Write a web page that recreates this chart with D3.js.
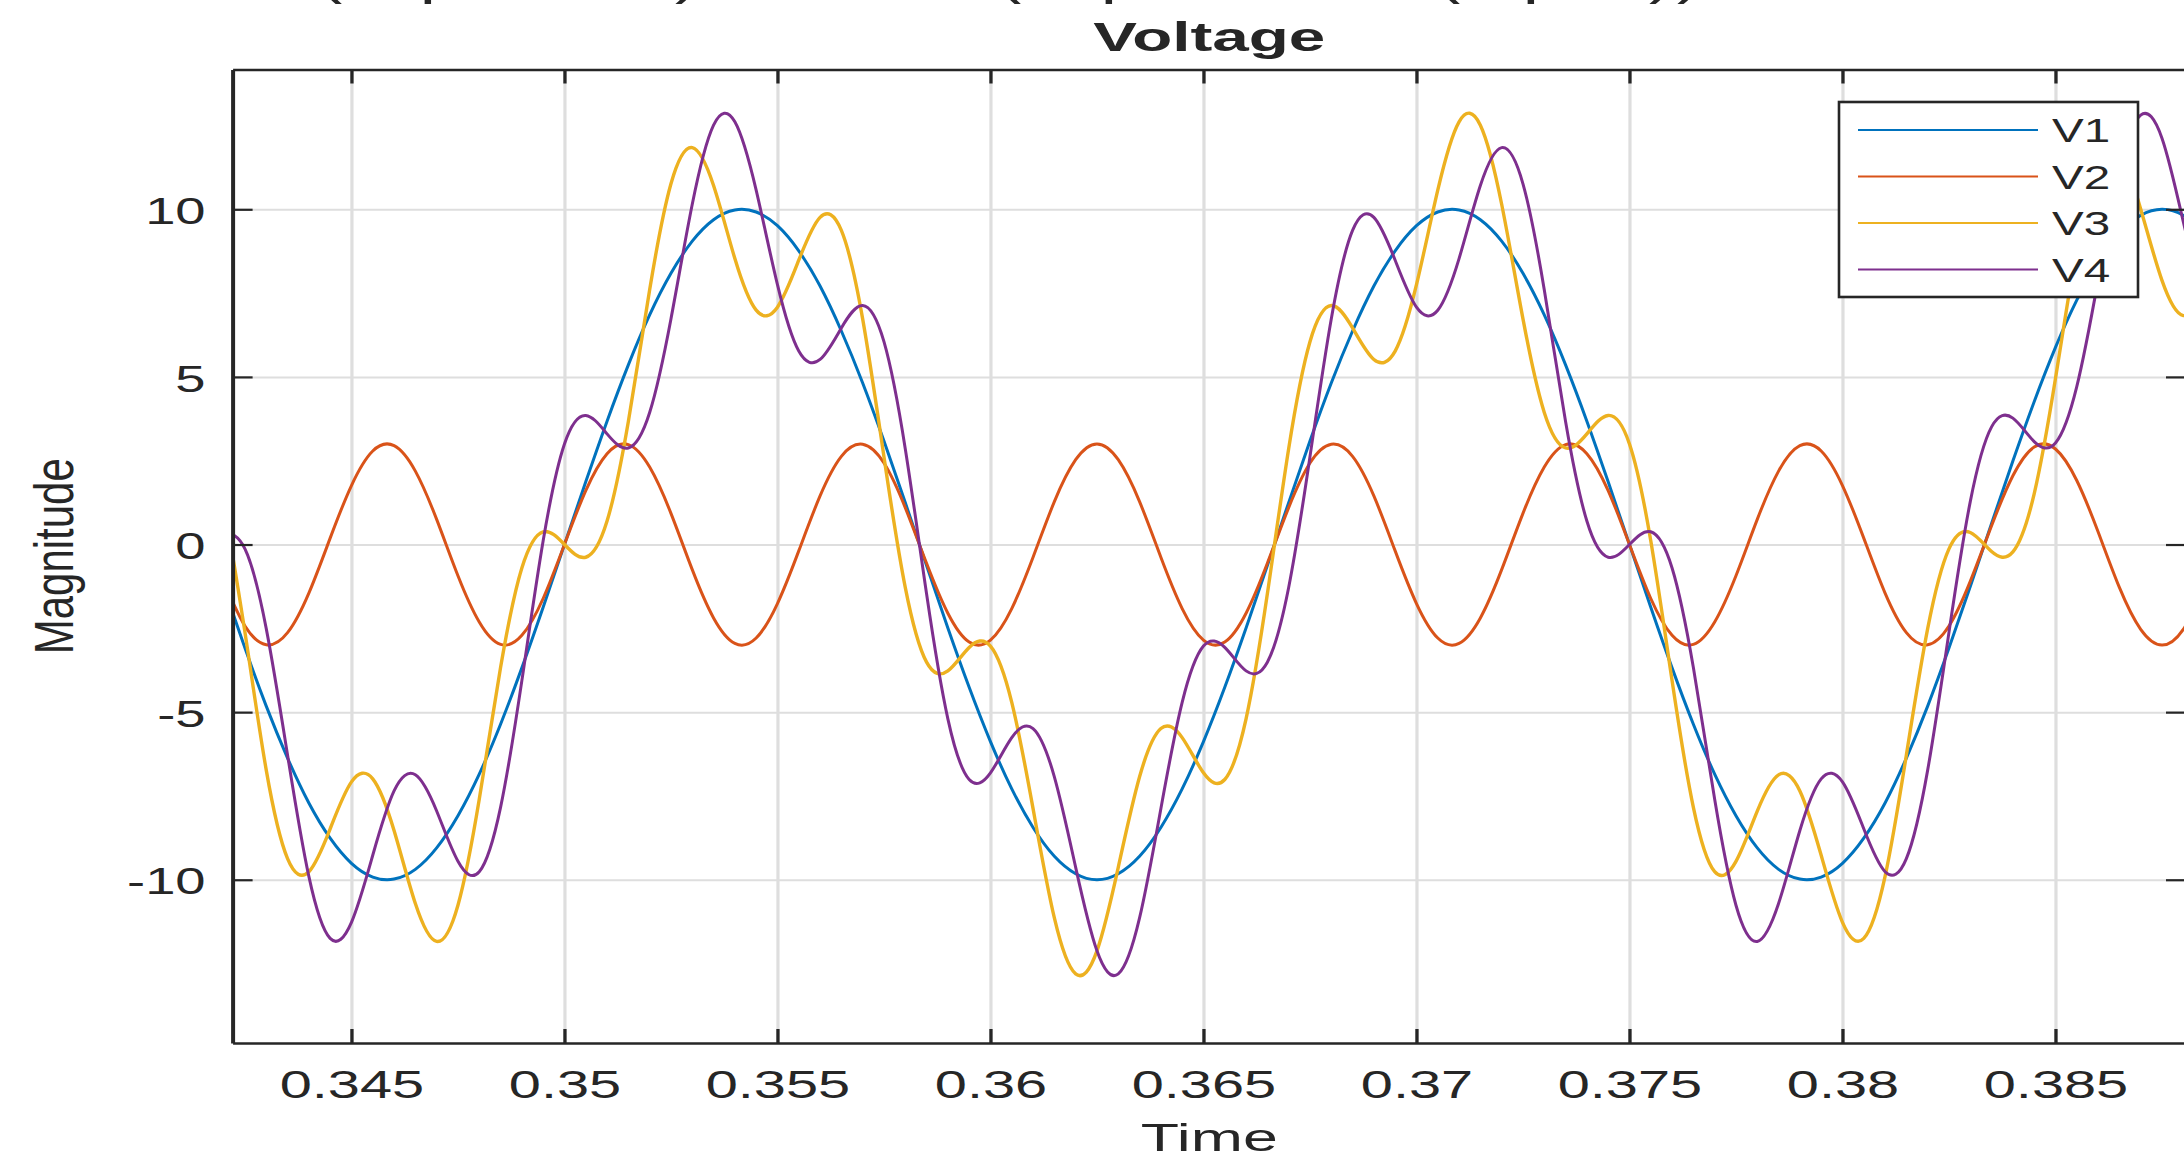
<!DOCTYPE html>
<html>
<head>
<meta charset="utf-8">
<script src="https://cdn.jsdelivr.net/npm/d3@7"></script>
<style>
  body { margin: 0; background: #fff; }
  svg { display: block; background: #fff; }
  text { font-family: "Liberation Sans", Arial, Helvetica, sans-serif; fill: #262626; }
</style>
</head>
<body>
<svg id="chart" width="2184" height="1156"></svg>
<script>
// Data =====================================================

var time = [0.3420,0.3425,0.3430,0.3435,0.3440,0.3445,0.3450,0.3455,0.3460,0.3465,
  0.3470,0.3475,0.3480,0.3485,0.3490,0.3495,0.3500,0.3505,0.3510,0.3515,
  0.3520,0.3525,0.3530,0.3535,0.3540,0.3545,0.3550,0.3555,0.3560,0.3565,
  0.3570,0.3575,0.3580,0.3585,0.3590,0.3595,0.3600,0.3605,0.3610,0.3615,
  0.3620,0.3625,0.3630,0.3635,0.3640,0.3645,0.3650,0.3655,0.3660,0.3665,
  0.3670,0.3675,0.3680,0.3685,0.3690,0.3695,0.3700,0.3705,0.3710,0.3715,
  0.3720,0.3725,0.3730,0.3735,0.3740,0.3745,0.3750,0.3755,0.3760,0.3765,
  0.3770,0.3775,0.3780,0.3785,0.3790,0.3795,0.3800,0.3805,0.3810,0.3815,
  0.3820,0.3825,0.3830,0.3835,0.3840,0.3845,0.3850,0.3855,0.3860,0.3865,
  0.3870,0.3875,0.3880,0.3885];

var v1 = [-1.25,-3.09,-4.82,-6.37,-7.71,-8.76,-9.51,-9.92,-9.98,-9.69,
  -9.05,-8.09,-6.85,-5.36,-3.68,-1.87,0,1.87,3.68,5.36,
  6.85,8.09,9.05,9.69,9.98,9.92,9.51,8.76,7.71,6.37,
  4.82,3.09,1.25,-0.63,-2.49,-4.26,-5.88,-7.29,-8.44,-9.30,
  -9.82,-10,-9.82,-9.30,-8.44,-7.29,-5.88,-4.26,-2.49,-0.63,
  1.25,3.09,4.82,6.37,7.71,8.76,9.51,9.92,9.98,9.69,
  9.05,8.09,6.85,5.36,3.68,1.87,0,-1.87,-3.68,-5.36,
  -6.85,-8.09,-9.05,-9.69,-9.98,-9.92,-9.51,-8.76,-7.71,-6.37,
  -4.82,-3.09,-1.25,0.63,2.49,4.26,5.88,7.29,8.44,9.30,
  9.82,10,9.82,9.30];

var v2 = [-1.10,-2.43,-2.99,-2.63,-1.45,0.19,1.76,2.79,2.95,2.19,
  0.75,-0.93,-2.31,-2.98,-2.71,-1.61,0,1.61,2.71,2.98,
  2.31,0.93,-0.75,-2.19,-2.95,-2.79,-1.76,-0.19,1.45,2.63,
  2.99,2.43,1.10,-0.56,-2.05,-2.91,-2.85,-1.91,-0.38,1.28,
  2.53,3.00,2.53,1.28,-0.38,-1.91,-2.85,-2.91,-2.05,-0.56,
  1.10,2.43,2.99,2.63,1.45,-0.19,-1.76,-2.79,-2.95,-2.19,
  -0.75,0.93,2.31,2.98,2.71,1.61,0,-1.61,-2.71,-2.98,
  -2.31,-0.93,0.75,2.19,2.95,2.79,1.76,0.19,-1.45,-2.63,
  -2.99,-2.43,-1.10,0.56,2.05,2.91,2.85,1.91,0.38,-1.28,
  -2.53,-3.00,-2.53,-1.28];

var v3 = [1.28,-2.62,-6.73,-9.37,-9.76,-8.48,-7.08,-6.99,-8.53,-10.71,
  -11.84,-10.76,-7.60,-3.67,-0.70,0.38,0,-0.38,0.70,3.67,
  7.60,10.76,11.84,10.71,8.53,6.99,7.08,8.48,9.76,9.37,
  6.73,2.62,-1.28,-3.51,-3.77,-3.07,-3.03,-4.71,-7.88,-11.14,
  -12.81,-12.12,-9.63,-6.93,-5.49,-5.76,-6.81,-7.01,-5.20,-1.47,
  2.86,6.05,7.13,6.46,5.52,5.77,7.75,10.57,12.61,12.51,
  10.15,6.73,3.94,2.88,3.30,3.85,3.00,0.11,-4.06,-7.84,
  -9.76,-9.45,-7.95,-6.87,-7.35,-9.27,-11.27,-11.75,-9.90,-6.28,
  -2.51,-0.13,0.36,-0.21,-0.22,1.51,4.95,8.82,11.39,11.67,
  10.01,7.88,6.83,7.46];

var v4 = [0.36,-0.13,-2.51,-6.28,-9.90,-11.75,-11.27,-9.27,-7.35,-6.87,
  -7.95,-9.45,-9.76,-7.84,-4.06,0.11,3.00,3.85,3.30,2.88,
  3.94,6.73,10.15,12.51,12.61,10.57,7.75,5.77,5.52,6.46,
  7.13,6.05,2.86,-1.47,-5.20,-7.01,-6.81,-5.76,-5.49,-6.93,
  -9.63,-12.12,-12.81,-11.14,-7.88,-4.71,-3.03,-3.07,-3.77,-3.51,
  -1.28,2.62,6.73,9.37,9.76,8.48,7.08,6.99,8.53,10.71,
  11.84,10.76,7.60,3.67,0.70,-0.38,0,0.38,-0.70,-3.67,
  -7.60,-10.76,-11.84,-10.71,-8.53,-6.99,-7.08,-8.48,-9.76,-9.37,
  -6.73,-2.62,1.28,3.51,3.77,3.07,3.03,4.71,7.88,11.14,
  12.81,12.12,9.63,6.93];

var seriesNames = ["V1", "V2", "V3", "V4"];
var xTicks = [0.345, 0.35, 0.355, 0.36, 0.365, 0.37, 0.375, 0.38, 0.385];
var xTickLabels = ["0.345", "0.35", "0.355", "0.36", "0.365", "0.37", "0.375", "0.38", "0.385"];
var yTicks = [-10, -5, 0, 5, 10];
var yTickLabels = ["-10", "-5", "0", "5", "10"];
var xLimits = [0.34221, 0.388064];
var yLimits = [-14.87, 14.17];

// Layout ===================================================

var colors = ["#0072BD", "#D95319", "#EDB120", "#7E2F8E"];
var axisColor = "#262626";
var gridColor = "#dedede";
// note: "top" is taken by window.top, so plot* names
var plotLeft = 232.6, plotRight = 2186, plotTop = 69.5, plotBottom = 1043;

var svg = d3.select("#chart");

var x = d3.scaleLinear().domain(xLimits).range([plotLeft, plotRight]);
var y = d3.scaleLinear().domain(yLimits).range([plotBottom, plotTop]);

// Grid =====================================================

var gx = svg.append("g")
  .attr("transform", "translate(0," + plotBottom + ")")
  .call(d3.axisBottom(x).tickValues(xTicks).tickSize(-(plotBottom - plotTop)).tickFormat(""));
gx.select(".domain").remove();
gx.selectAll("line").attr("stroke", gridColor).attr("stroke-width", 3.2);

var gy = svg.append("g")
  .attr("transform", "translate(" + plotLeft + ",0)")
  .call(d3.axisLeft(y).tickValues(yTicks).tickSize(-(plotRight - plotLeft)).tickFormat(""));
gy.select(".domain").remove();
gy.selectAll("line").attr("stroke", gridColor).attr("stroke-width", 2);

// Lines ====================================================

svg.append("clipPath").attr("id", "plot-clip")
  .append("rect")
  .attr("x", plotLeft).attr("y", plotTop)
  .attr("width", plotRight - plotLeft).attr("height", plotBottom - plotTop);

var series = [v1, v2, v3, v4].map(function(vals, i) {
  return { name: seriesNames[i], color: colors[i],
           points: time.map(function(t, j) { return [t, vals[j]]; }) };
});

var line = d3.line()
  .x(function(d) { return x(d[0]); })
  .y(function(d) { return y(d[1]); })
  .curve(d3.curveNatural);

svg.append("g").attr("clip-path", "url(#plot-clip)")
  .selectAll("path")
  .data(series)
  .enter().append("path")
  .attr("d", function(d) { return line(d.points); })
  .attr("fill", "none")
  .attr("stroke", function(d) { return d.color; })
  .attr("stroke-width", function(d, i) { return i == 2 ? 3.4 : 3; })
  .attr("stroke-linejoin", "round");

// Axes =====================================================

var xStretch = 1.52, yStretch = 1.45;

var bottomAxis = svg.append("g")
  .attr("transform", "translate(0," + plotBottom + ")")
  .call(d3.axisBottom(x).tickValues(xTicks)
    .tickFormat(function(d, i) { return xTickLabels[i]; })
    .tickSizeInner(-14).tickSizeOuter(0).tickPadding(28));
bottomAxis.select(".domain").attr("stroke", axisColor).attr("stroke-width", 2.6);
bottomAxis.selectAll("line").attr("stroke", axisColor).attr("stroke-width", 3.3);
bottomAxis.selectAll("text")
  .attr("font-size", 38).attr("fill", axisColor)
  .attr("font-family", "Liberation Sans, Arial, sans-serif")
  .attr("transform", "scale(" + xStretch + ",1)");

var topAxis = svg.append("g")
  .attr("transform", "translate(0," + plotTop + ")")
  .call(d3.axisTop(x).tickValues(xTicks).tickFormat("")
    .tickSizeInner(-14).tickSizeOuter(0));
topAxis.select(".domain").attr("stroke", axisColor).attr("stroke-width", 2.6);
topAxis.selectAll("line").attr("stroke", axisColor).attr("stroke-width", 3.3);

var leftAxis = svg.append("g")
  .attr("transform", "translate(" + plotLeft + ",0)")
  .call(d3.axisLeft(y).tickValues(yTicks)
    .tickFormat(function(d, i) { return yTickLabels[i]; })
    .tickSizeInner(-20).tickSizeOuter(0).tickPadding(27 / yStretch));
leftAxis.select(".domain").attr("stroke", axisColor).attr("stroke-width", 4);
leftAxis.selectAll("line").attr("stroke", axisColor).attr("stroke-width", 2.2);
leftAxis.selectAll("text")
  .attr("font-size", 37.5).attr("fill", axisColor).attr("dy", "0.38em")
  .attr("font-family", "Liberation Sans, Arial, sans-serif")
  .attr("transform", "scale(" + yStretch + ",1)");

var rightAxis = svg.append("g")
  .attr("transform", "translate(" + plotRight + ",0)")
  .call(d3.axisRight(y).tickValues(yTicks).tickFormat("")
    .tickSizeInner(-20).tickSizeOuter(0));
rightAxis.select(".domain").attr("stroke", axisColor).attr("stroke-width", 4);
rightAxis.selectAll("line").attr("stroke", axisColor).attr("stroke-width", 2.2);

// Labels ===================================================

var mid = (plotLeft + plotRight) / 2;

svg.append("text")
  .attr("text-anchor", "middle")
  .attr("font-size", 40.5).attr("font-weight", "bold")
  .attr("fill", "#000")
  .attr("transform", "translate(" + mid + ",50.7) scale(1.62,1)")
  .text("Voltage");

svg.append("text")
  .attr("text-anchor", "middle")
  .attr("font-size", 38.7)
  .attr("transform", "translate(" + mid + ",1150.7) scale(1.62,1)")
  .text("Time");

svg.append("text")
  .attr("text-anchor", "middle")
  .attr("font-size", 42)
  .attr("transform", "translate(73," + ((plotTop + plotBottom) / 2) + ") scale(1.3,1) rotate(-90)")
  .text("Magnitude");

// cut-off line of the page above the figure, only descenders show
var fragments = [["(", 330], ["p", 440], [")", 687], ["(", 1009], ["p", 1121],
                 ["(", 1448], ["p", 1543], [")", 1661], [")", 1689]];
svg.append("g").selectAll("text")
  .data(fragments)
  .enter().append("text")
  .attr("text-anchor", "middle")
  .attr("font-family", "Liberation Serif, Times New Roman, serif")
  .attr("font-size", 52)
  .attr("fill", "#000")
  .attr("transform", function(d) { return "translate(" + d[1] + ",-7) scale(1.4,1)"; })
  .text(function(d) { return d[0]; });

// Legend ===================================================

var legend = svg.append("g").attr("class", "legend");
legend.append("rect")
  .attr("x", 1839).attr("y", 102)
  .attr("width", 299).attr("height", 195)
  .attr("fill", "#fff")
  .attr("stroke", axisColor).attr("stroke-width", 2.6);

var item = legend.selectAll(".item")
  .data(series)
  .enter().append("g")
  .attr("class", "item")
  .attr("transform", function(d, i) { return "translate(0," + (130 + i * 46.5) + ")"; });

item.append("line")
  .attr("x1", 1858).attr("x2", 2038)
  .attr("stroke", function(d) { return d.color; })
  .attr("stroke-width", 2);

item.append("text")
  .attr("font-size", 33.5)
  .attr("fill", "#000")
  .attr("dy", "0.36em")
  .attr("transform", "translate(2052,0) scale(1.42,1)")
  .text(function(d) { return d.name; });
</script>
</body>
</html>
